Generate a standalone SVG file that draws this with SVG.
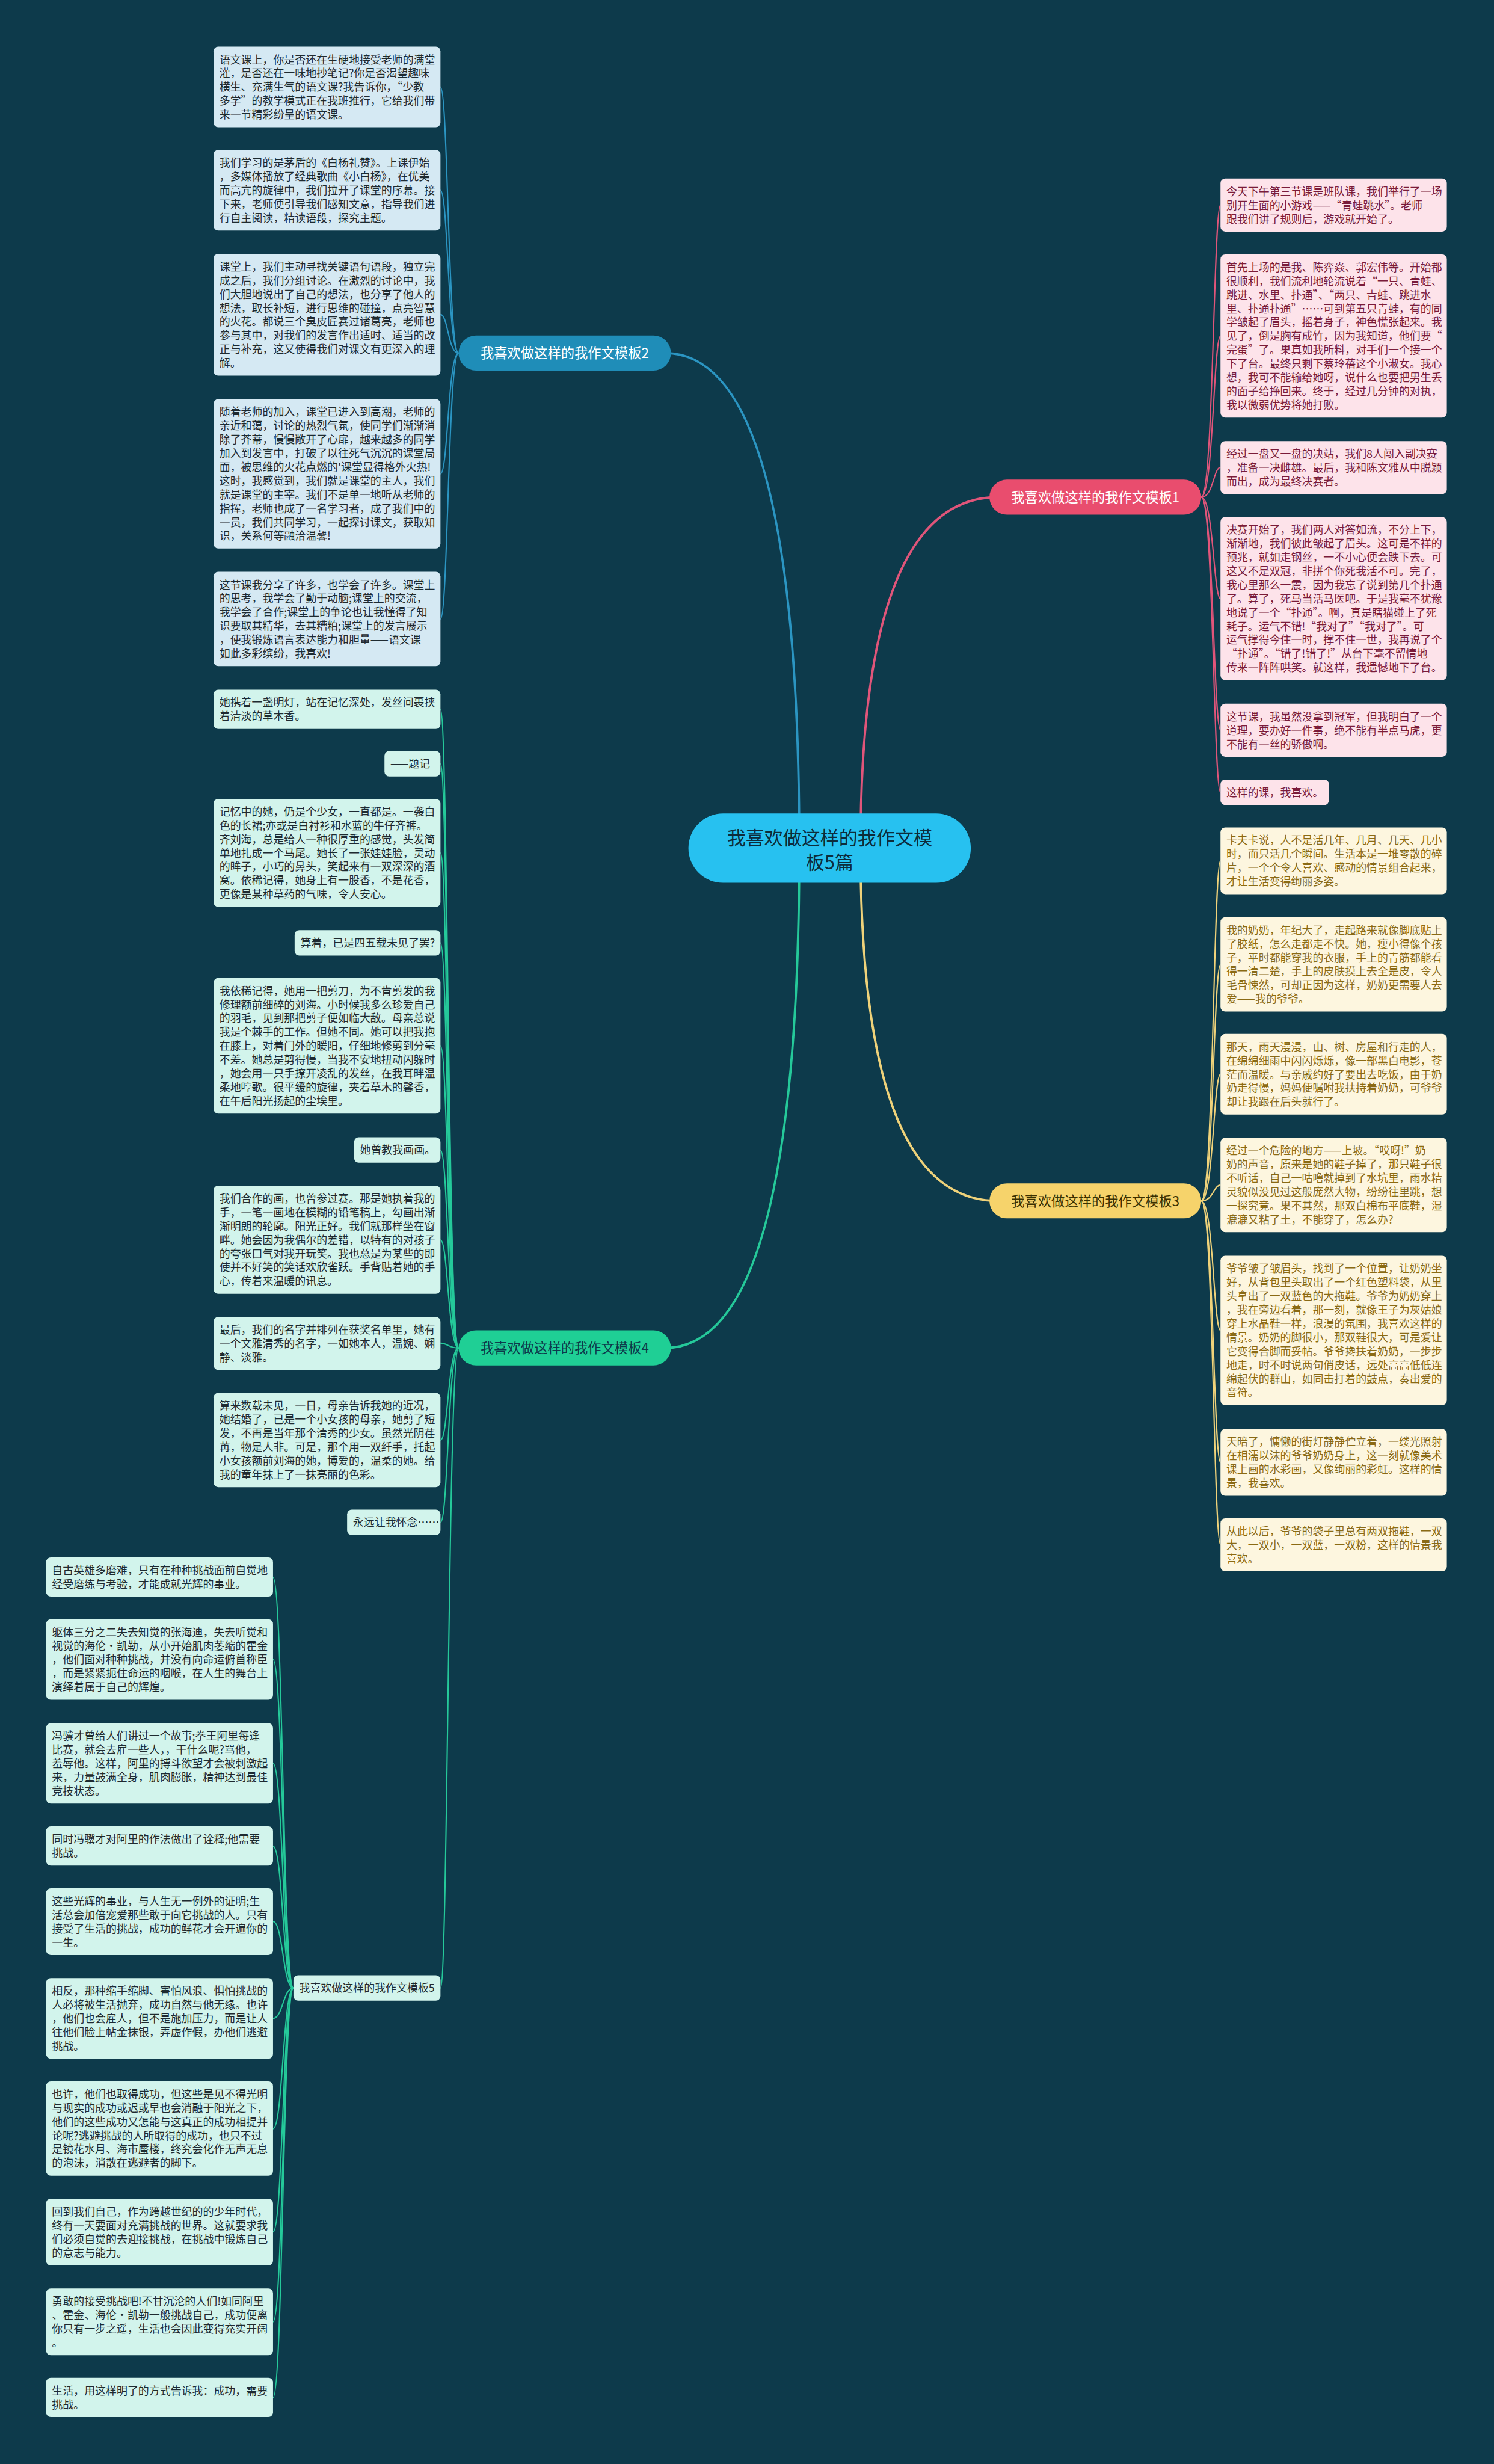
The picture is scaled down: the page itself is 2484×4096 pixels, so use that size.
<svg xmlns="http://www.w3.org/2000/svg" width="2484" height="4096" viewBox="0 0 2484 4096">
<style>
.t{font-family:"Noto Sans CJK SC","Noto Sans",sans-serif;font-size:18.5px}
.lb rect{fill:#d5e9f3}.lb text{fill:#1e2a30}
.lg rect{fill:#d2f4ec}.lg text{fill:#1e2a30}
.lp rect{fill:#fde3ea}.lp text{fill:#7a1b3a}
.ly rect{fill:#fdf6df}.ly text{fill:#8a6a14}
.br text{font-family:"Noto Sans CJK SC","Noto Sans",sans-serif;font-size:23px;text-anchor:middle}
.c{fill:none;stroke-width:2.2}
.cm{fill:none;stroke-width:4}
</style>
<rect width="2484" height="4096" fill="#0d3a4b"/>
<g transform="scale(0.97)">
<g id="connectors">
<path class="cm" stroke="#e0557a" d="M1475 1453 Q1475 852 1710 852"/>
<path class="cm" stroke="#efd27a" d="M1475 1453 Q1475 2058 1710 2058"/>
<path class="cm" stroke="#2b95c2" d="M1370 1453 Q1370 605 1140 605"/>
<path class="cm" stroke="#25c99a" d="M1370 1453 Q1370 2310 1140 2310"/>
<g stroke="#2b95c2">
<path class="c" d="M786 605 C768 605 768 149 755 149"/>
<path class="c" d="M786 605 C768 605 768 326 755 326"/>
<path class="c" d="M786 605 C768 605 768 539 755 539"/>
<path class="c" d="M786 605 C768 605 768 812 755 812"/>
<path class="c" d="M786 605 C768 605 768 1061 755 1061"/>
</g>
<g stroke="#25c99a">
<path class="c" d="M786 2310 C768 2310 768 1216 755 1216"/>
<path class="c" d="M786 2310 C768 2310 768 1309 755 1309"/>
<path class="c" d="M786 2310 C768 2310 768 1462 755 1462"/>
<path class="c" d="M786 2310 C768 2310 768 1616 755 1616"/>
<path class="c" d="M786 2310 C768 2310 768 1792 755 1792"/>
<path class="c" d="M786 2310 C768 2310 768 1971 755 1971"/>
<path class="c" d="M786 2310 C768 2310 768 2125 755 2125"/>
<path class="c" d="M786 2310 C768 2310 768 2302 755 2302"/>
<path class="c" d="M786 2310 C768 2310 768 2468 755 2468"/>
<path class="c" d="M786 2310 C768 2310 768 2609 755 2609"/>
<path class="c" d="M786 2310 C768 2310 768 3407 755 3407"/>
<path class="c" d="M503 3407 C485 3407 485 2703 468 2703"/>
<path class="c" d="M503 3407 C485 3407 485 2844 468 2844"/>
<path class="c" d="M503 3407 C485 3407 485 3022 468 3022"/>
<path class="c" d="M503 3407 C485 3407 485 3164 468 3164"/>
<path class="c" d="M503 3407 C485 3407 485 3293 468 3293"/>
<path class="c" d="M503 3407 C485 3407 485 3459 468 3459"/>
<path class="c" d="M503 3407 C485 3407 485 3648 468 3648"/>
<path class="c" d="M503 3407 C485 3407 485 3825 468 3825"/>
<path class="c" d="M503 3407 C485 3407 485 3979 468 3979"/>
<path class="c" d="M503 3407 C485 3407 485 4109 468 4109"/>
</g>
<g stroke="#e0557a">
<path class="c" d="M2059 852 C2080 852 2080 351 2092 351"/>
<path class="c" d="M2059 852 C2080 852 2080 576 2092 576"/>
<path class="c" d="M2059 852 C2080 852 2080 801 2092 801"/>
<path class="c" d="M2059 852 C2080 852 2080 1026 2092 1026"/>
<path class="c" d="M2059 852 C2080 852 2080 1251 2092 1251"/>
<path class="c" d="M2059 852 C2080 852 2080 1358 2092 1358"/>
</g>
<g stroke="#efd27a">
<path class="c" d="M2059 2058 C2080 2058 2080 1475 2092 1475"/>
<path class="c" d="M2059 2058 C2080 2058 2080 1653 2092 1653"/>
<path class="c" d="M2059 2058 C2080 2058 2080 1841 2092 1841"/>
<path class="c" d="M2059 2058 C2080 2058 2080 2031 2092 2031"/>
<path class="c" d="M2059 2058 C2080 2058 2080 2280 2092 2280"/>
<path class="c" d="M2059 2058 C2080 2058 2080 2506 2092 2506"/>
<path class="c" d="M2059 2058 C2080 2058 2080 2647 2092 2647"/>
</g>
</g>

<g id="center">
<rect x="1180" y="1394" width="484" height="119" rx="59.5" fill="#27c1f0"/>
<text font-family="Noto Sans CJK SC,Noto Sans,sans-serif" font-size="32" fill="#0d2c3b" text-anchor="middle"><tspan x="1422" y="1447">我喜欢做这样的我作文模</tspan><tspan x="1422" y="1490">板5篇</tspan></text>
</g>

<g id="branch1" class="br"><rect x="1696" y="822" width="363" height="60" rx="30" fill="#e94d6e"/><text x="1877.5" y="860.7" fill="#ffffff">我喜欢做这样的我作文模板1</text></g>
<g id="branch2" class="br"><rect x="786" y="575" width="364" height="60" rx="30" fill="#1f8db8"/><text x="968" y="613.7" fill="#ffffff">我喜欢做这样的我作文模板2</text></g>
<g id="branch3" class="br"><rect x="1696" y="2028" width="363" height="60" rx="30" fill="#f6d36b"/><text x="1877.5" y="2066.7" fill="#3b3000">我喜欢做这样的我作文模板3</text></g>
<g id="branch4" class="br"><rect x="786" y="2280" width="364" height="60" rx="30" fill="#1fcf95"/><text x="968" y="2318.7" fill="#0d3a4b">我喜欢做这样的我作文模板4</text></g>

<!-- branch 2 leaves -->
<g id="b2-1" class="lb"><rect x="366" y="80" width="389" height="138" rx="8"/><text class="t"><tspan x="376" y="108.8">语文课上，你是否还在生硬地接受老师的满堂</tspan><tspan x="376" y="132.4">灌，是否还在一味地抄笔记?你是否渴望趣味</tspan><tspan x="376" y="156">横生、充满生气的语文课?我告诉你，“少教</tspan><tspan x="376" y="179.6">多学”的教学模式正在我班推行，它给我们带</tspan><tspan x="376" y="203.2">来一节精彩纷呈的语文课。</tspan></text></g>
<g id="b2-2" class="lb"><rect x="366" y="257" width="389" height="138" rx="8"/><text class="t"><tspan x="376" y="285.8">我们学习的是茅盾的《白杨礼赞》。上课伊始</tspan><tspan x="376" y="309.4">，多媒体播放了经典歌曲《小白杨》，在优美</tspan><tspan x="376" y="333">而高亢的旋律中，我们拉开了课堂的序幕。接</tspan><tspan x="376" y="356.6">下来，老师便引导我们感知文意，指导我们进</tspan><tspan x="376" y="380.2">行自主阅读，精读语段，探究主题。</tspan></text></g>
<g id="b2-3" class="lb"><rect x="366" y="435" width="389" height="208.8" rx="8"/><text class="t"><tspan x="376" y="463.8">课堂上，我们主动寻找关键语句语段，独立完</tspan><tspan x="376" y="487.4">成之后，我们分组讨论。在激烈的讨论中，我</tspan><tspan x="376" y="511">们大胆地说出了自己的想法，也分享了他人的</tspan><tspan x="376" y="534.6">想法，取长补短，进行思维的碰撞，点亮智慧</tspan><tspan x="376" y="558.2">的火花。都说三个臭皮匠赛过诸葛亮，老师也</tspan><tspan x="376" y="581.8">参与其中，对我们的发言作出适时、适当的改</tspan><tspan x="376" y="605.4">正与补充，这又使得我们对课文有更深入的理</tspan><tspan x="376" y="629">解。</tspan></text></g>
<g id="b2-4" class="lb"><rect x="366" y="684" width="389" height="256" rx="8"/><text class="t"><tspan x="376" y="712.8">随着老师的加入，课堂已进入到高潮，老师的</tspan><tspan x="376" y="736.4">亲近和蔼，讨论的热烈气氛，使同学们渐渐消</tspan><tspan x="376" y="760">除了芥蒂，慢慢敞开了心扉，越来越多的同学</tspan><tspan x="376" y="783.6">加入到发言中，打破了以往死气沉沉的课堂局</tspan><tspan x="376" y="807.2">面，被思维的火花点燃的'课堂显得格外火热!</tspan><tspan x="376" y="830.8">这时，我感觉到，我们就是课堂的主人，我们</tspan><tspan x="376" y="854.4">就是课堂的主宰。我们不是单一地听从老师的</tspan><tspan x="376" y="878">指挥，老师也成了一名学习者，成了我们中的</tspan><tspan x="376" y="901.6">一员，我们共同学习，一起探讨课文，获取知</tspan><tspan x="376" y="925.2">识，关系何等融洽温馨!</tspan></text></g>
<g id="b2-5" class="lb"><rect x="366" y="980" width="389" height="161.6" rx="8"/><text class="t"><tspan x="376" y="1008.8">这节课我分享了许多，也学会了许多。课堂上</tspan><tspan x="376" y="1032.4">的思考，我学会了勤于动脑;课堂上的交流，</tspan><tspan x="376" y="1056">我学会了合作;课堂上的争论也让我懂得了知</tspan><tspan x="376" y="1079.6">识要取其精华，去其糟粕;课堂上的发言展示</tspan><tspan x="376" y="1103.2">，使我锻炼语言表达能力和胆量——语文课</tspan><tspan x="376" y="1126.8">如此多彩缤纷，我喜欢!</tspan></text></g>

<!-- branch 4 leaves -->
<g id="b4-1" class="lg"><rect x="366" y="1182" width="389" height="67.2" rx="8"/><text class="t"><tspan x="376" y="1210.8">她携着一盏明灯，站在记忆深处，发丝间裹挟</tspan><tspan x="376" y="1234.4">着清淡的草木香。</tspan></text></g>
<g id="b4-2" class="lg"><rect x="659" y="1287" width="96" height="43.6" rx="8"/><text class="t"><tspan x="669" y="1315.8">——题记</tspan></text></g>
<g id="b4-3" class="lg"><rect x="366" y="1369" width="389" height="185.2" rx="8"/><text class="t"><tspan x="376" y="1397.8">记忆中的她，仍是个少女，一直都是。一袭白</tspan><tspan x="376" y="1421.4">色的长裙;亦或是白衬衫和水蓝的牛仔齐裤。</tspan><tspan x="376" y="1445">齐刘海，总是给人一种很厚重的感觉，头发简</tspan><tspan x="376" y="1468.6">单地扎成一个马尾。她长了一张娃娃脸，灵动</tspan><tspan x="376" y="1492.2">的眸子，小巧的鼻头，笑起来有一双深深的酒</tspan><tspan x="376" y="1515.8">窝。依稀记得，她身上有一股香，不是花香，</tspan><tspan x="376" y="1539.4">更像是某种草药的气味，令人安心。</tspan></text></g>
<g id="b4-4" class="lg"><rect x="505" y="1594" width="250" height="43.6" rx="8"/><text class="t"><tspan x="515" y="1622.8">算着，已是四五载未见了罢?</tspan></text></g>
<g id="b4-5" class="lg"><rect x="366" y="1676" width="389" height="232.4" rx="8"/><text class="t"><tspan x="376" y="1704.8">我依稀记得，她用一把剪刀，为不肯剪发的我</tspan><tspan x="376" y="1728.4">修理额前细碎的刘海。小时候我多么珍爱自己</tspan><tspan x="376" y="1752">的羽毛，见到那把剪子便如临大敌。母亲总说</tspan><tspan x="376" y="1775.6">我是个棘手的工作。但她不同。她可以把我抱</tspan><tspan x="376" y="1799.2">在膝上，对着门外的暖阳，仔细地修剪到分毫</tspan><tspan x="376" y="1822.8">不差。她总是剪得慢，当我不安地扭动闪躲时</tspan><tspan x="376" y="1846.4">，她会用一只手撩开凌乱的发丝，在我耳畔温</tspan><tspan x="376" y="1870">柔地哼歌。很平缓的旋律，夹着草木的馨香，</tspan><tspan x="376" y="1893.6">在午后阳光扬起的尘埃里。</tspan></text></g>
<g id="b4-6" class="lg"><rect x="607" y="1949" width="148" height="43.6" rx="8"/><text class="t"><tspan x="617" y="1977.8">她曾教我画画。</tspan></text></g>
<g id="b4-7" class="lg"><rect x="366" y="2032" width="389" height="185.2" rx="8"/><text class="t"><tspan x="376" y="2060.8">我们合作的画，也曾参过赛。那是她执着我的</tspan><tspan x="376" y="2084.4">手，一笔一画地在模糊的铅笔稿上，勾画出渐</tspan><tspan x="376" y="2108">渐明朗的轮廓。阳光正好。我们就那样坐在窗</tspan><tspan x="376" y="2131.6">畔。她会因为我偶尔的差错，以特有的对孩子</tspan><tspan x="376" y="2155.2">的夸张口气对我开玩笑。我也总是为某些的即</tspan><tspan x="376" y="2178.8">使并不好笑的笑话欢欣雀跃。手背贴着她的手</tspan><tspan x="376" y="2202.4">心，传着来温暖的讯息。</tspan></text></g>
<g id="b4-8" class="lg"><rect x="366" y="2257" width="389" height="90.8" rx="8"/><text class="t"><tspan x="376" y="2285.8">最后，我们的名字并排列在获奖名单里，她有</tspan><tspan x="376" y="2309.4">一个文雅清秀的名字，一如她本人，温婉、娴</tspan><tspan x="376" y="2333">静、淡雅。</tspan></text></g>
<g id="b4-9" class="lg"><rect x="366" y="2387" width="389" height="161.6" rx="8"/><text class="t"><tspan x="376" y="2415.8">算来数载未见，一日，母亲告诉我她的近况，</tspan><tspan x="376" y="2439.4">她结婚了，已是一个小女孩的母亲，她剪了短</tspan><tspan x="376" y="2463">发，不再是当年那个清秀的少女。虽然光阴荏</tspan><tspan x="376" y="2486.6">苒，物是人非。可是，那个用一双纤手，托起</tspan><tspan x="376" y="2510.2">小女孩额前刘海的她，博爱的，温柔的她。给</tspan><tspan x="376" y="2533.8">我的童年抹上了一抹亮丽的色彩。</tspan></text></g>
<g id="b4-10" class="lg"><rect x="595" y="2587" width="160" height="43.6" rx="8"/><text class="t"><tspan x="605" y="2615.8">永远让我怀念……</tspan></text></g>
<g id="branch5" class="lg"><rect x="503" y="3385" width="252" height="43.6" rx="8"/><text class="t"><tspan x="513" y="3413.8">我喜欢做这样的我作文模板5</tspan></text></g>

<!-- branch 5 leaves -->
<g id="b5-1" class="lg"><rect x="79" y="2669" width="389" height="67.2" rx="8"/><text class="t"><tspan x="89" y="2697.8">自古英雄多磨难，只有在种种挑战面前自觉地</tspan><tspan x="89" y="2721.4">经受磨练与考验，才能成就光辉的事业。</tspan></text></g>
<g id="b5-2" class="lg"><rect x="79" y="2775" width="389" height="138" rx="8"/><text class="t"><tspan x="89" y="2803.8">躯体三分之二失去知觉的张海迪，失去听觉和</tspan><tspan x="89" y="2827.4">视觉的海伦·凯勒，从小开始肌肉萎缩的霍金</tspan><tspan x="89" y="2851">，他们面对种种挑战，并没有向命运俯首称臣</tspan><tspan x="89" y="2874.6">，而是紧紧扼住命运的咽喉，在人生的舞台上</tspan><tspan x="89" y="2898.2">演绎着属于自己的辉煌。</tspan></text></g>
<g id="b5-3" class="lg"><rect x="79" y="2953" width="389" height="138" rx="8"/><text class="t"><tspan x="89" y="2981.8">冯骥才曾给人们讲过一个故事;拳王阿里每逢</tspan><tspan x="89" y="3005.4">比赛，就会去雇一些人，，干什么呢?骂他，</tspan><tspan x="89" y="3029">羞辱他。这样，阿里的搏斗欲望才会被刺激起</tspan><tspan x="89" y="3052.6">来，力量鼓满全身，肌肉膨胀，精神达到最佳</tspan><tspan x="89" y="3076.2">竞技状态。</tspan></text></g>
<g id="b5-4" class="lg"><rect x="79" y="3130" width="389" height="67.2" rx="8"/><text class="t"><tspan x="89" y="3158.8">同时冯骥才对阿里的作法做出了诠释;他需要</tspan><tspan x="89" y="3182.4">挑战。</tspan></text></g>
<g id="b5-5" class="lg"><rect x="79" y="3236" width="389" height="114.4" rx="8"/><text class="t"><tspan x="89" y="3264.8">这些光辉的事业，与人生无一例外的证明;生</tspan><tspan x="89" y="3288.4">活总会加倍宠爱那些敢于向它挑战的人。只有</tspan><tspan x="89" y="3312">接受了生活的挑战，成功的鲜花才会开遍你的</tspan><tspan x="89" y="3335.6">一生。</tspan></text></g>
<g id="b5-6" class="lg"><rect x="79" y="3390" width="389" height="138" rx="8"/><text class="t"><tspan x="89" y="3418.8">相反，那种缩手缩脚、害怕风浪、惧怕挑战的</tspan><tspan x="89" y="3442.4">人必将被生活抛弃，成功自然与他无缘。也许</tspan><tspan x="89" y="3466">，他们也会雇人，但不是施加压力，而是让人</tspan><tspan x="89" y="3489.6">往他们脸上帖金抹银，弄虚作假，办他们逃避</tspan><tspan x="89" y="3513.2">挑战。</tspan></text></g>
<g id="b5-7" class="lg"><rect x="79" y="3567" width="389" height="161.6" rx="8"/><text class="t"><tspan x="89" y="3595.8">也许，他们也取得成功，但这些是见不得光明</tspan><tspan x="89" y="3619.4">与现实的成功或迟或早也会消融于阳光之下，</tspan><tspan x="89" y="3643">他们的这些成功又怎能与这真正的成功相提并</tspan><tspan x="89" y="3666.6">论呢?逃避挑战的人所取得的成功，也只不过</tspan><tspan x="89" y="3690.2">是镜花水月、海市蜃楼，终究会化作无声无息</tspan><tspan x="89" y="3713.8">的泡沫，消散在逃避者的脚下。</tspan></text></g>
<g id="b5-8" class="lg"><rect x="79" y="3768" width="389" height="114.4" rx="8"/><text class="t"><tspan x="89" y="3796.8">回到我们自己，作为跨越世纪的的少年时代，</tspan><tspan x="89" y="3820.4">终有一天要面对充满挑战的世界。这就要求我</tspan><tspan x="89" y="3844">们必须自觉的去迎接挑战，在挑战中锻炼自己</tspan><tspan x="89" y="3867.6">的意志与能力。</tspan></text></g>
<g id="b5-9" class="lg"><rect x="79" y="3922" width="389" height="114.4" rx="8"/><text class="t"><tspan x="89" y="3950.8">勇敢的接受挑战吧!不甘沉沦的人们!如同阿里</tspan><tspan x="89" y="3974.4">、霍金、海伦·凯勒一般挑战自己，成功便离</tspan><tspan x="89" y="3998">你只有一步之遥，生活也会因此变得充实开阔</tspan><tspan x="89" y="4021.6">。</tspan></text></g>
<g id="b5-10" class="lg"><rect x="79" y="4075" width="389" height="67.2" rx="8"/><text class="t"><tspan x="89" y="4103.8">生活，用这样明了的方式告诉我：成功，需要</tspan><tspan x="89" y="4127.4">挑战。</tspan></text></g>

<!-- branch 1 leaves -->
<g id="b1-1" class="lp"><rect x="2092" y="306" width="388" height="90.8" rx="8"/><text class="t"><tspan x="2102" y="334.8">今天下午第三节课是班队课，我们举行了一场</tspan><tspan x="2102" y="358.4">别开生面的小游戏——“青蛙跳水”。老师</tspan><tspan x="2102" y="382">跟我们讲了规则后，游戏就开始了。</tspan></text></g>
<g id="b1-2" class="lp"><rect x="2092" y="436" width="388" height="279.6" rx="8"/><text class="t"><tspan x="2102" y="464.8">首先上场的是我、陈弈焱、郭宏伟等。开始都</tspan><tspan x="2102" y="488.4">很顺利，我们流利地轮流说着“一只、青蛙、</tspan><tspan x="2102" y="512">跳进、水里、扑通”、“两只、青蛙、跳进水</tspan><tspan x="2102" y="535.6">里、扑通扑通”……可到第五只青蛙，有的同</tspan><tspan x="2102" y="559.2">学皱起了眉头，摇着身子，神色慌张起来。我</tspan><tspan x="2102" y="582.8">见了，倒是胸有成竹，因为我知道，他们要“</tspan><tspan x="2102" y="606.4">完蛋”了。果真如我所料，对手们一个接一个</tspan><tspan x="2102" y="630">下了台。最终只剩下蔡玲蓓这个小淑女。我心</tspan><tspan x="2102" y="653.6">想，我可不能输给她呀，说什么也要把男生丢</tspan><tspan x="2102" y="677.2">的面子给挣回来。终于，经过几分钟的对执，</tspan><tspan x="2102" y="700.8">我以微弱优势将她打败。</tspan></text></g>
<g id="b1-3" class="lp"><rect x="2092" y="756" width="388" height="90.8" rx="8"/><text class="t"><tspan x="2102" y="784.8">经过一盘又一盘的决站，我们8人闯入副决赛</tspan><tspan x="2102" y="808.4">，准备一决雌雄。最后，我和陈文雅从中脱颖</tspan><tspan x="2102" y="832">而出，成为最终决赛者。</tspan></text></g>
<g id="b1-4" class="lp"><rect x="2092" y="886" width="388" height="279.6" rx="8"/><text class="t"><tspan x="2102" y="914.8">决赛开始了，我们两人对答如流，不分上下，</tspan><tspan x="2102" y="938.4">渐渐地，我们彼此皱起了眉头。这可是不祥的</tspan><tspan x="2102" y="962">预兆，就如走钢丝，一不小心便会跌下去。可</tspan><tspan x="2102" y="985.6">这又不是双冠，非拼个你死我活不可。完了，</tspan><tspan x="2102" y="1009.2">我心里那么一震，因为我忘了说到第几个扑通</tspan><tspan x="2102" y="1032.8">了。算了，死马当活马医吧。于是我毫不犹豫</tspan><tspan x="2102" y="1056.4">地说了一个“扑通”。啊，真是瞎猫碰上了死</tspan><tspan x="2102" y="1080">耗子。运气不错!“我对了”“我对了”。可</tspan><tspan x="2102" y="1103.6">运气撑得今住一时，撑不住一世，我再说了个</tspan><tspan x="2102" y="1127.2">“扑通”。“错了!错了!”从台下毫不留情地</tspan><tspan x="2102" y="1150.8">传来一阵阵哄笑。就这样，我遗憾地下了台。</tspan></text></g>
<g id="b1-5" class="lp"><rect x="2092" y="1206" width="388" height="90.8" rx="8"/><text class="t"><tspan x="2102" y="1234.8">这节课，我虽然没拿到冠军，但我明白了一个</tspan><tspan x="2102" y="1258.4">道理，要办好一件事，绝不能有半点马虎，更</tspan><tspan x="2102" y="1282">不能有一丝的骄傲啊。</tspan></text></g>
<g id="b1-6" class="lp"><rect x="2092" y="1336" width="186" height="43.6" rx="8"/><text class="t"><tspan x="2102" y="1364.8">这样的课，我喜欢。</tspan></text></g>

<!-- branch 3 leaves -->
<g id="b3-1" class="ly"><rect x="2092" y="1418" width="388" height="114.4" rx="8"/><text class="t"><tspan x="2102" y="1446.8">卡夫卡说，人不是活几年、几月、几天、几小</tspan><tspan x="2102" y="1470.4">时，而只活几个瞬间。生活本是一堆零散的碎</tspan><tspan x="2102" y="1494">片，一个个令人喜欢、感动的情景组合起来，</tspan><tspan x="2102" y="1517.6">才让生活变得绚丽多姿。</tspan></text></g>
<g id="b3-2" class="ly"><rect x="2092" y="1572" width="388" height="161.6" rx="8"/><text class="t"><tspan x="2102" y="1600.8">我的奶奶，年纪大了，走起路来就像脚底贴上</tspan><tspan x="2102" y="1624.4">了胶纸，怎么走都走不快。她，瘦小得像个孩</tspan><tspan x="2102" y="1648">子，平时都能穿我的衣服，手上的青筋都能看</tspan><tspan x="2102" y="1671.6">得一清二楚，手上的皮肤摸上去全是皮，令人</tspan><tspan x="2102" y="1695.2">毛骨悚然，可却正因为这样，奶奶更需要人去</tspan><tspan x="2102" y="1718.8">爱——我的爷爷。</tspan></text></g>
<g id="b3-3" class="ly"><rect x="2092" y="1772" width="388" height="138" rx="8"/><text class="t"><tspan x="2102" y="1800.8">那天，雨天漫漫，山、树、房屋和行走的人，</tspan><tspan x="2102" y="1824.4">在绵绵细雨中闪闪烁烁，像一部黑白电影，苍</tspan><tspan x="2102" y="1848">茫而温暖。与亲戚约好了要出去吃饭，由于奶</tspan><tspan x="2102" y="1871.6">奶走得慢，妈妈便嘱咐我扶持着奶奶，可爷爷</tspan><tspan x="2102" y="1895.2">却让我跟在后头就行了。</tspan></text></g>
<g id="b3-4" class="ly"><rect x="2092" y="1950" width="388" height="161.6" rx="8"/><text class="t"><tspan x="2102" y="1978.8">经过一个危险的地方——上坡。“哎呀!”奶</tspan><tspan x="2102" y="2002.4">奶的声音，原来是她的鞋子掉了，那只鞋子很</tspan><tspan x="2102" y="2026">不听话，自己一咕噜就掉到了水坑里，雨水精</tspan><tspan x="2102" y="2049.6">灵貌似没见过这般庞然大物，纷纷往里跳，想</tspan><tspan x="2102" y="2073.2">一探究竟。果不其然，那双白棉布平底鞋，湿</tspan><tspan x="2102" y="2096.8">漉漉又粘了土，不能穿了，怎么办?</tspan></text></g>
<g id="b3-5" class="ly"><rect x="2092" y="2152" width="388" height="256" rx="8"/><text class="t"><tspan x="2102" y="2180.8">爷爷皱了皱眉头，找到了一个位置，让奶奶坐</tspan><tspan x="2102" y="2204.4">好，从背包里头取出了一个红色塑料袋，从里</tspan><tspan x="2102" y="2228">头拿出了一双蓝色的大拖鞋。爷爷为奶奶穿上</tspan><tspan x="2102" y="2251.6">，我在旁边看着，那一刻，就像王子为灰姑娘</tspan><tspan x="2102" y="2275.2">穿上水晶鞋一样，浪漫的氛围，我喜欢这样的</tspan><tspan x="2102" y="2298.8">情景。奶奶的脚很小，那双鞋很大，可是爱让</tspan><tspan x="2102" y="2322.4">它变得合脚而妥帖。爷爷搀扶着奶奶，一步步</tspan><tspan x="2102" y="2346">地走，时不时说两句俏皮话，远处高高低低连</tspan><tspan x="2102" y="2369.6">绵起伏的群山，如同击打着的鼓点，奏出爱的</tspan><tspan x="2102" y="2393.2">音符。</tspan></text></g>
<g id="b3-6" class="ly"><rect x="2092" y="2449" width="388" height="114.4" rx="8"/><text class="t"><tspan x="2102" y="2477.8">天暗了，慵懒的街灯静静伫立着，一缕光照射</tspan><tspan x="2102" y="2501.4">在相濡以沫的爷爷奶奶身上，这一刻就像美术</tspan><tspan x="2102" y="2525">课上画的水彩画，又像绚丽的彩虹。这样的情</tspan><tspan x="2102" y="2548.6">景，我喜欢。</tspan></text></g>
<g id="b3-7" class="ly"><rect x="2092" y="2602" width="388" height="90.8" rx="8"/><text class="t"><tspan x="2102" y="2630.8">从此以后，爷爷的袋子里总有两双拖鞋，一双</tspan><tspan x="2102" y="2654.4">大，一双小，一双蓝，一双粉，这样的情景我</tspan><tspan x="2102" y="2678">喜欢。</tspan></text></g>
</g>
</svg>
